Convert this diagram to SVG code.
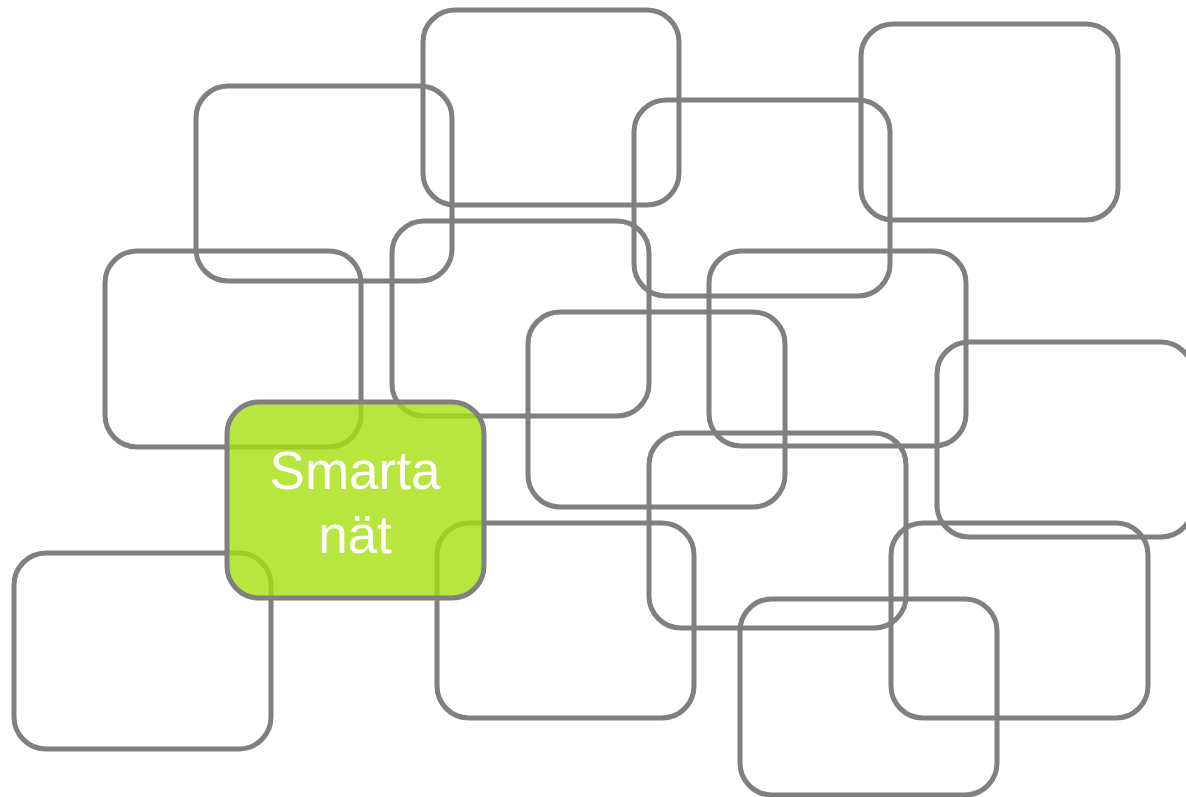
<svg xmlns="http://www.w3.org/2000/svg" width="1186" height="797" viewBox="0 0 1186 797">
<style>
.b{fill:none;stroke:#808080;stroke-width:5}
.g{fill:#a5e00f;fill-opacity:0.8;stroke:#808080;stroke-width:5}
.t{font-family:"Liberation Sans",Arial,sans-serif;font-size:53px;fill:#ffffff;text-anchor:middle}
</style>
<rect width="1186" height="797" fill="#ffffff"/>
<g id="box-a"><rect class="b" x="196" y="86" width="256" height="195" rx="32"/></g>
<g id="box-b"><rect class="b" x="423" y="10" width="256" height="195" rx="32"/></g>
<g id="box-c"><rect class="b" x="861" y="24" width="257" height="196" rx="32"/></g>
<g id="box-d"><rect class="b" x="634" y="100" width="256" height="196" rx="32"/></g>
<g id="box-e"><rect class="b" x="105" y="251" width="256" height="196" rx="32"/></g>
<g id="box-f"><rect class="b" x="392" y="221" width="257" height="195" rx="32"/></g>
<g id="box-g"><rect class="b" x="709" y="251" width="257" height="195" rx="32"/></g>
<g id="box-h"><rect class="b" x="528" y="312" width="257" height="195" rx="32"/></g>
<g id="box-i"><rect class="b" x="937" y="342" width="256" height="195" rx="32"/></g>
<g id="box-j"><rect class="b" x="649" y="433" width="257" height="195" rx="32"/></g>
<g id="box-k"><rect class="b" x="14" y="553" width="257" height="196" rx="32"/></g>
<g id="box-l"><rect class="b" x="437" y="523" width="257" height="195" rx="32"/></g>
<g id="box-m"><rect class="b" x="891" y="523" width="257" height="195" rx="32"/></g>
<g id="box-n"><rect class="b" x="740" y="599" width="257" height="196" rx="32"/></g>
<g id="smarta-nat">
<rect class="g" x="227" y="402" width="257" height="196" rx="32"/>
<text class="t" x="355" y="489">Smarta</text>
<text class="t" x="355" y="553">nät</text>
</g>
<g id="connectors"></g>
</svg>
